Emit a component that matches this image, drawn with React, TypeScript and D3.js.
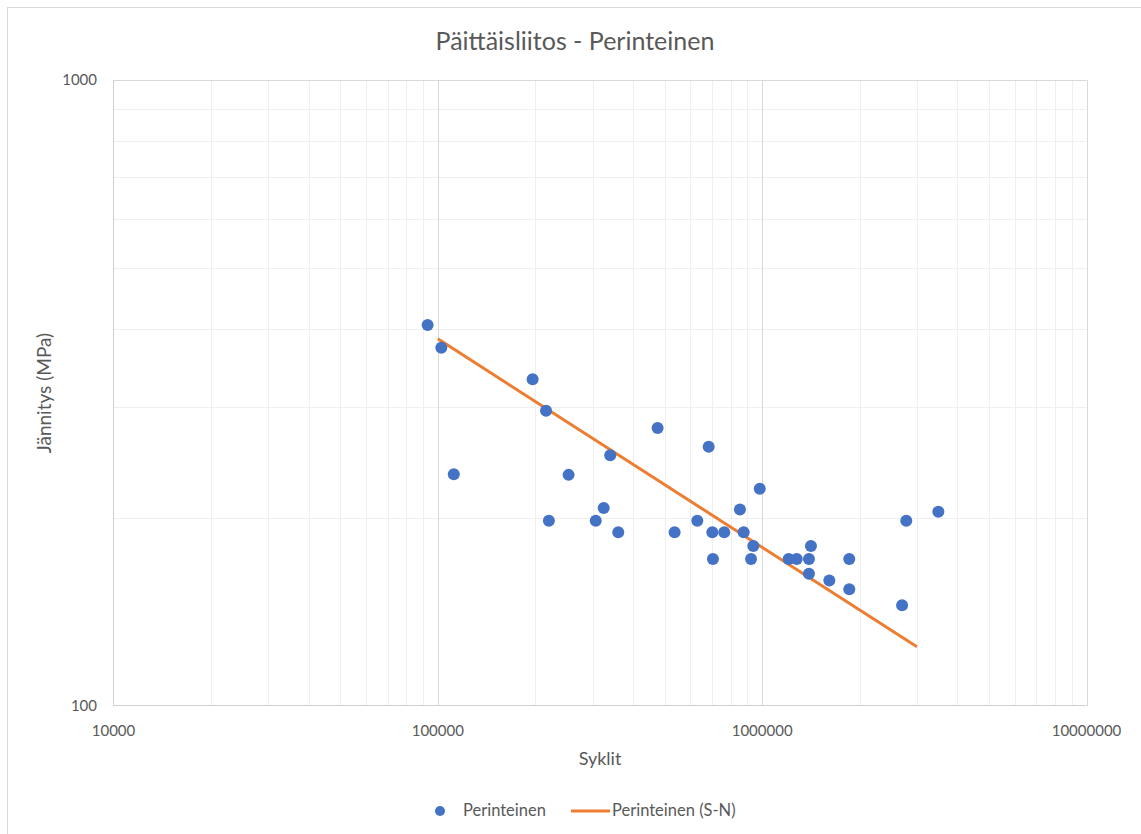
import React from "react";
import * as d3 from "d3";

// ---- Data ----
const cycles: number[] = [
  93000, 102500, 196000, 215600, 476000, 340000, 112000, 253000, 324600, 220000,
  306800, 360000, 537000, 684000, 983000, 854000, 631000, 702000, 764000, 877000,
  939000, 705000, 924000, 1207000, 1278000, 1394000, 1414000, 1394000, 1611000, 1856000,
  1856000, 2700000, 2782000, 3493000,
];
const stress: number[] = [
  406, 373.6, 332.6, 296.2, 278, 251.5, 234.5, 234, 207.2, 197.7,
  197.7, 189.5, 189.5, 259.6, 222.4, 206, 197.7, 189.5, 189.5, 189.5,
  180.1, 171.7, 171.7, 171.7, 171.7, 171.7, 180.1, 162.7, 158.6, 171.7,
  153.6, 144.8, 197.7, 204.4,
];
const snCycles: number[] = [100000, 3000000];
const snStress: number[] = [386, 124.3];

const xTicks: number[] = [10000, 100000, 1000000, 10000000];
const yTicks: number[] = [100, 1000];

const title = "Päittäisliitos - Perinteinen";
const xTitle = "Syklit";
const yTitle = "Jännitys (MPa)";
const seriesNames = ["Perinteinen", "Perinteinen (S-N)"];

const W = 1141;
const H = 834;
const PL = 113.5, PR = 1086.5, PT = 80, PB = 706;

const textColor = "#595959";
const blue = "#4472C4";
const orange = "#ED7D31";
const FONT = "Lato, 'Open Sans', sans-serif";

export default function App() {
  const x = d3.scaleLog().domain([1e4, 1e7]).range([PL, PR]);
  const y = d3.scaleLog().domain([100, 1000]).range([PB, PT]);

  const minorX: number[] = [];
  for (let k = 4; k < 7; k++) for (let m = 2; m <= 9; m++) minorX.push(m * Math.pow(10, k));
  const minorY: number[] = [];
  for (let m = 2; m <= 9; m++) minorY.push(m * 100);

  const pts = cycles.map((c, i) => [c, stress[i]] as [number, number]);
  const snPts = snCycles.map((c, i) => [c, snStress[i]] as [number, number]);
  const line = d3.line<[number, number]>().x((d) => x(d[0])).y((d) => y(d[1]));

  return (
    <svg
      width={W}
      height={H}
      style={{ position: "absolute", left: 0, top: 0, background: "#fff" }}
      fontFamily={FONT}
    >
      <rect x={0} y={0} width={W} height={H} fill="#fff" />
      <rect x={7.5} y={7.5} width={W + 50} height={H + 50} fill="none" stroke="#d9d9d9" strokeWidth={1} />

      {/* minor gridlines */}
      {minorX.map((v) => (
        <line key={"mx" + v} x1={Math.round(x(v)) + 0.5} x2={Math.round(x(v)) + 0.5} y1={PT} y2={PB} stroke="#efefef" strokeWidth={1} />
      ))}
      {minorY.map((v) => (
        <line key={"my" + v} x1={PL} x2={PR} y1={Math.round(y(v)) + 0.5} y2={Math.round(y(v)) + 0.5} stroke="#efefef" strokeWidth={1} />
      ))}
      {/* major gridlines */}
      {xTicks.slice(1).map((v) => (
        <line key={"Mx" + v} x1={Math.round(x(v)) + 0.5} x2={Math.round(x(v)) + 0.5} y1={PT} y2={PB} stroke="#d9d9d9" strokeWidth={1} />
      ))}
      {yTicks.slice(1).map((v) => (
        <line key={"My" + v} x1={PL} x2={PR} y1={y(v) + 0.5} y2={y(v) + 0.5} stroke="#d9d9d9" strokeWidth={1} />
      ))}
      {/* axes */}
      <line x1={PL} x2={PL} y1={PT} y2={PB} stroke="#d0d0d0" strokeWidth={1} />
      <line x1={PL} x2={PR} y1={PB - 0.5} y2={PB - 0.5} stroke="#d0d0d0" strokeWidth={1} />

      {/* S-N line */}
      <path d={line(snPts) || ""} fill="none" stroke={orange} strokeWidth={3} />

      {/* points */}
      {pts.map((p, i) => (
        <circle key={i} cx={x(p[0])} cy={y(p[1])} r={6} fill={blue} />
      ))}

      {/* tick labels */}
      {xTicks.map((v) => (
        <text key={"xt" + v} x={x(v)} y={736} textAnchor="middle" fontSize={15} fill={textColor}>
          {String(v)}
        </text>
      ))}
      {yTicks.map((v) => (
        <text key={"yt" + v} x={97} y={y(v) + 5} textAnchor="end" fontSize={15} fill={textColor}>
          {String(v)}
        </text>
      ))}

      {/* titles */}
      <text x={575} y={50} textAnchor="middle" fontSize={25} fill={textColor}>
        {title}
      </text>
      <text x={600} y={765} textAnchor="middle" fontSize={18} fill={textColor}>
        {xTitle}
      </text>
      <text transform={`translate(51,${(PT + PB) / 2}) rotate(-90)`} textAnchor="middle" fontSize={19} fill={textColor}>
        {yTitle}
      </text>

      {/* legend */}
      <circle cx={440} cy={811} r={5} fill={blue} />
      <text x={463} y={816} fontSize={16.5} fill={textColor}>
        {seriesNames[0]}
      </text>
      <line x1={571} x2={610} y1={811} y2={811} stroke={orange} strokeWidth={3} />
      <text x={612} y={816} fontSize={16.5} fill={textColor}>
        {seriesNames[1]}
      </text>
    </svg>
  );
}
